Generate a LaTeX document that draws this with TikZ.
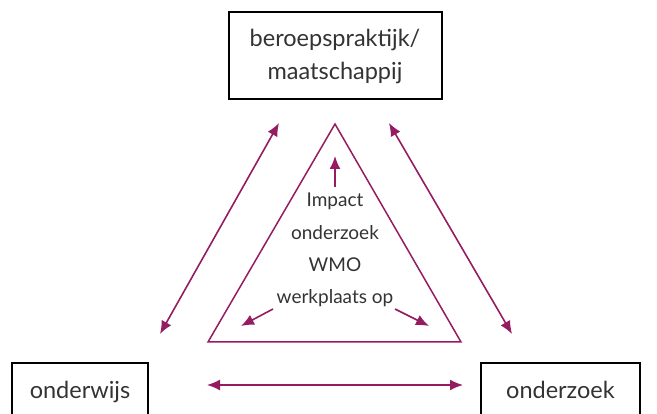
\documentclass[tikz,border=0pt]{standalone}
\usepackage{fontspec}
\setmainfont{Lato}
\usetikzlibrary{arrows.meta}
\definecolor{wine}{RGB}{150,28,98}
\tikzset{
  box/.style={draw=black, line width=2pt, inner sep=0pt, align=center, font=\fontsize{23.5}{33}\selectfont, text=black!80},
  wtip/.style={arrows={-Latex[length=13pt,width=11pt]}},
  arr/.style={draw=wine, line width=1.6pt, -{Latex[length=13pt,width=11pt]}},
  darr/.style={draw=wine, line width=1.6pt, {Latex[length=13pt,width=11pt]}-{Latex[length=13pt,width=11pt]}},
  inner/.style={font=\fontsize{19}{22}\selectfont, text=black!80, inner sep=0pt, anchor=base}
}
\begin{document}
\begin{tikzpicture}[x=1pt,y=-1pt]
\useasboundingbox (0,0) rectangle (657,414);
\node[box, minimum width=213pt, minimum height=87pt] (top) at (335,56) {beroepspraktijk/\\maatschappij};
\node[box, anchor=north, minimum width=136pt, text height=36pt, text depth=40pt] (left) at (80,362) {onderwijs};
\node[box, anchor=north, minimum width=159pt, text height=36pt, text depth=40pt] (right) at (560.5,362) {onderzoek};
\coordinate (A) at (335,124);
\coordinate (B) at (208,342);
\coordinate (C) at (461,342);
\draw[wine, line width=1.5pt] (A) -- (B) -- (C) -- cycle;
\coordinate (l1) at (160,334); \coordinate (l2) at (279,123);
\coordinate (r1) at (389,123); \coordinate (r2) at (512,334);
\coordinate (h1) at (207,385); \coordinate (h2) at (463,385);
\draw[darr] (l1) -- (l2);
\draw[darr] (r1) -- (r2);
\draw[darr] (h1) -- (h2);
\node[inner] (t1) at (335,207) {Impact};
\node[inner] (t2) at (335,240) {onderzoek};
\node[inner] (t3) at (335,272) {WMO};
\node[inner] (t4) at (335,304) {werkplaats op};
\coordinate (u1) at (335,187); \coordinate (u2) at (335,156);
\coordinate (a1) at (273,309); \coordinate (a2) at (241,326);
\coordinate (b1) at (395,309); \coordinate (b2) at (429,326);
\draw[arr] (u1) -- (u2);
\draw[arr] (a1) -- (a2);
\draw[arr] (b1) -- (b2);
\end{tikzpicture}
\end{document}
